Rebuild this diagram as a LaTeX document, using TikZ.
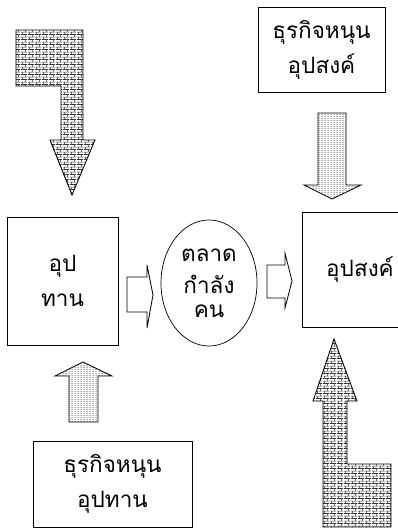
\documentclass[tikz,border=0pt]{standalone}
\usepackage{fontspec}
\newfontfamily\thaifont[Script=Thai]{Loma}
\usetikzlibrary{shapes.geometric, patterns, positioning}

% mattoncini piccoli
\pgfdeclarepatternformonly{minibricks}{\pgfpointorigin}{\pgfpoint{5pt}{3.4pt}}{\pgfpoint{5pt}{3.4pt}}{
  \pgfsetlinewidth{0.45pt}
  \pgfpathmoveto{\pgfpoint{0pt}{0.4pt}}\pgfpathlineto{\pgfpoint{5pt}{0.4pt}}
  \pgfpathmoveto{\pgfpoint{0pt}{2.1pt}}\pgfpathlineto{\pgfpoint{5pt}{2.1pt}}
  \pgfpathmoveto{\pgfpoint{1.25pt}{0.4pt}}\pgfpathlineto{\pgfpoint{1.25pt}{2.1pt}}
  \pgfpathmoveto{\pgfpoint{3.75pt}{2.1pt}}\pgfpathlineto{\pgfpoint{3.75pt}{3.8pt}}
  \pgfusepath{stroke}}
% puntini fini
\pgfdeclarepatternformonly{finedots}{\pgfpointorigin}{\pgfpoint{2pt}{1.6pt}}{\pgfpoint{2pt}{1.6pt}}{
  \pgfpathrectangle{\pgfpoint{0.2pt}{0.4pt}}{\pgfpoint{1.2pt}{0.5pt}}
  \pgfusepath{fill}}

\begin{document}
\begin{tikzpicture}[x=0.025cm, y=-0.025cm, line join=miter]
        % Stili
        \tikzstyle{box} = [draw, rectangle, line width=0.6pt, align=center, inner sep=0pt, font=\thaifont\fontsize{16}{25}\selectfont]
        \tikzstyle{market} = [draw, ellipse, line width=0.5pt, align=center, inner sep=0pt, minimum width=2.4cm, minimum height=3.15cm, font=\thaifont\fontsize{16}{25}\selectfont]
        \tikzstyle{brick} = [draw, line width=0.6pt, pattern=minibricks, pattern color=black!80]
        \tikzstyle{dots} = [draw, line width=0.6pt, pattern=finedots, pattern color=black!55]
        \tikzstyle{hollow} = [draw, line width=0.6pt, fill=white]

        \useasboundingbox (0,0) rectangle (398,529);

        % --- Blocchi principali ---
        % Offerta
        \node [box, minimum width=2.775cm, minimum height=3.2cm] (offer) at (62.5,281) {อุป\\ทาน};
        % Mercato
        \node [market] (market) at (209,283) {ตลาด\\[-2pt]กำลัง\\[-8pt]คน};
        % Domanda
        \node [box, minimum width=2.9cm, minimum height=2.875cm] (demand) at (360,269.5) {อุปสงค์};

        % --- Blocchi di supporto ---
        \node [box, minimum width=3.175cm, minimum height=2.125cm] (supportD) at (321.5,49.5) {ธุรกิจหนุน\\อุปสงค์};
        \node [box, minimum width=3.975cm, minimum height=2.15cm] (supportO) at (112.5,484) {ธุรกิจหนุน\\อุปทาน};

        % --- Frecce ---
        % Freccia a L in alto (verso l'offerta)
        \draw [brick] (16,30) -- (83,30) -- (83,140) -- (95,140) -- (72,195) -- (50,140)
            -- (61,140) -- (61,86) -- (16,86) -- cycle;
        % Sostegno domanda -> domanda
        \draw [dots] (318,113) -- (346,113) -- (346,185) -- (361,185) -- (332,199)
            -- (304,185) -- (318,185) -- cycle;
        % Sostegno offerta -> offerta
        \draw [dots] (69,422) -- (69,376) -- (55,376) -- (83,362) -- (112,376)
            -- (98,376) -- (98,422) -- cycle;
        % Freccia a L in basso (verso la domanda)
        \draw [brick] (334,339) -- (357,401) -- (347,401) -- (347,464) -- (391,464)
            -- (391,527) -- (323,527) -- (323,401) -- (313,401) -- cycle;
        % Offerta -> mercato
        \draw [hollow] (127,277) -- (147,277) -- (147,265) -- (153,295) -- (147,328)
            -- (147,312) -- (127,312) -- cycle;
        % Mercato -> domanda
        \draw [hollow] (267,265) -- (285,265) -- (285,253) -- (292,281) -- (285,308)
            -- (285,298) -- (267,298) -- cycle;

    \end{tikzpicture}
\end{document}
